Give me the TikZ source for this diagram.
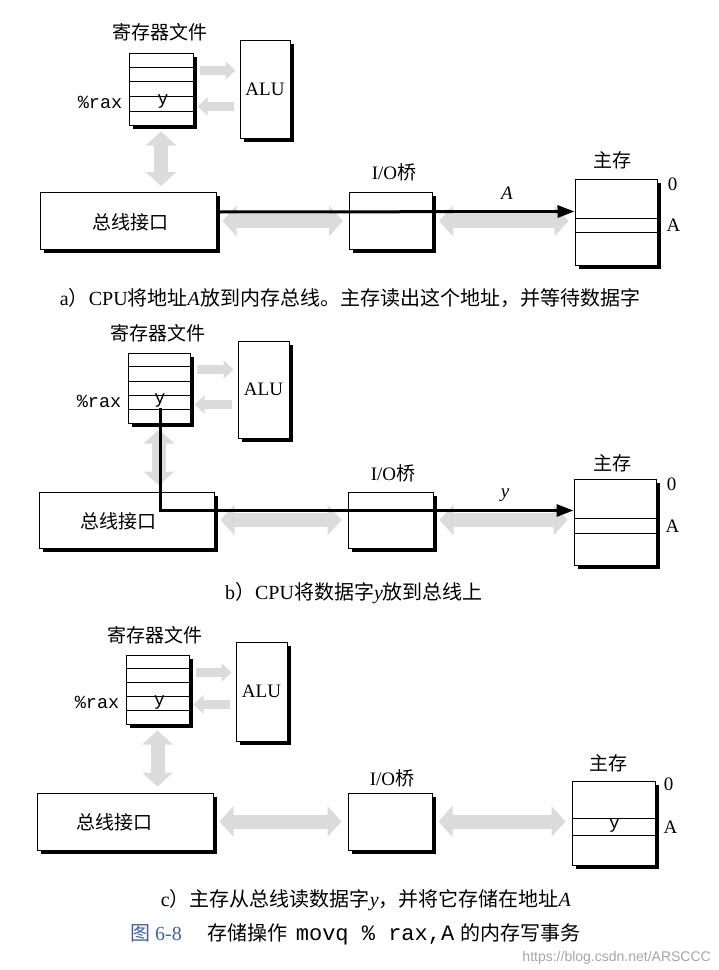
\documentclass[tikz,border=0pt]{standalone}
\usepackage{fontspec}
\setmainfont{Liberation Serif}
\setsansfont{Liberation Sans}
\setmonofont{Liberation Mono}
\newfontfamily\cjkfont{Noto Sans CJK SC}
\newcommand{\zhtext}[1]{{\cjkfont #1}}
\usetikzlibrary{arrows.meta,shadows,calc,positioning}
\definecolor{figblue}{RGB}{58,98,168}

\begin{document}
\begin{tikzpicture}[x=1pt, y=-1pt, >=Stealth,
  every node/.style={font=\fontsize{19}{22}\selectfont, inner sep=0pt},
  box/.style={draw, line width=1pt, fill=white,
    drop shadow={shadow xshift=3.5pt, shadow yshift=-3.5pt, fill=black, opacity=1}},
  busarrow/.style={line width=14pt, black!14,
    {Triangle[width=30pt,length=14pt]}-{Triangle[width=30pt,length=14pt]},
    shorten <=6pt, shorten >=6pt},
  feed/.style={line width=9pt, black!14, -{Triangle[width=18pt,length=10pt]},
    shorten <=6pt, shorten >=4pt},
  data/.style={line width=3pt, -{Triangle[width=12pt,length=17pt]}},
  lbl/.style={font=\fontsize{19}{22}\selectfont\cjkfont},
  regname/.style={font=\fontsize{18.5}{20}\selectfont\ttfamily},
  captext/.style={font=\fontsize{20}{24}\selectfont}]
  \useasboundingbox[fill=white] (0,0) rectangle (719,970);

  % ===== a) address on the bus =====
  % Register file + ALU
  \node[box, minimum width=64pt, minimum height=72pt] (rfA) at (161,89) {};
  \foreach \k in {1,...,4}
    \draw[line width=0.8pt] ($(rfA.north west)!\k/5!(rfA.south west)$) -- ($(rfA.north east)!\k/5!(rfA.south east)$);
  \node[lbl] (rftA) at (160,32) {寄存器文件};
  \node[regname] (yA) at ($(rfA.center)+(2,13)$) {y};
  \node[regname, anchor=east] (raxA) at ($(rfA.west)+(-6,13)$) {\%rax};
  \node[box, minimum width=50pt, minimum height=98pt] (aluA) at (265,89) {ALU};
  \coordinate (inA) at ($(rfA.north east)+(0,18)$);
  \coordinate (outA) at ($(rfA.north east)+(0,54)$);
  \draw[feed] (inA) -- (aluA.west |- inA);
  \draw[feed] (aluA.west |- outA) -- (outA);

  % Bus interface, I/O bridge, main memory
  \node[box, minimum width=176pt, minimum height=57pt] (busA) at (128,221) {};
  \node[lbl] at ($(busA.center)+(2,1)$) {总线接口};
  \node[box, minimum width=83pt, minimum height=57pt] (ioA) at (391,221) {};
  \node at (394,172) {I/O\zhtext{桥}};
  \node[box, minimum width=82pt, minimum height=86pt] (memA) at (616,222) {};
  \draw[line width=0.8pt] ($(memA.north west)+(0,40)$) -- ($(memA.north east)+(0,40)$);
  \draw[line width=0.8pt] ($(memA.north west)+(0,54)$) -- ($(memA.north east)+(0,54)$);
  \node[lbl] at (612,160) {主存};
  \node at ($(memA.north east)+(15,6)$) {0};
  \node at ($(memA.north east)+(16,47)$) {A};

  % Buses
  \draw[busarrow] (rfA.south) -- (rfA.south |- busA.north);
  \draw[busarrow] (busA.east) -- (ioA.west);
  \draw[busarrow] (ioA.east) -- (ioA.east -| memA.west);
  \draw[data] ($(busA.north east)+(0,20)$) -- ($(memA.north west)+(0,33)$);
  \node at (507,193) {\textit{A}};

  \node[captext] (capA) at (350,298) {a\zhtext{）}CPU\zhtext{将地址}\textit{A}\zhtext{放到内存总线。主存读出这个地址，并等待数据字}};

  % ===== b) data word on the bus =====
  \node[box, minimum width=62pt, minimum height=70pt] (rfB) at (159,388) {};
  \foreach \k in {1,...,4}
    \draw[line width=0.8pt] ($(rfB.north west)!\k/5!(rfB.south west)$) -- ($(rfB.north east)!\k/5!(rfB.south east)$);
  \node[lbl] (rftB) at (158,333) {寄存器文件};
  \node[regname] (yB) at ($(rfB.center)+(1,13)$) {y};
  \node[regname, anchor=east] (raxB) at ($(rfB.west)+(-6,13)$) {\%rax};
  \node[box, minimum width=51pt, minimum height=97pt] (aluB) at (263.5,389.5) {ALU};
  \coordinate (inB) at ($(rfB.north east)+(0,17)$);
  \coordinate (outB) at ($(rfB.north east)+(0,52)$);
  \draw[feed] (inB) -- (aluB.west |- inB);
  \draw[feed] (aluB.west |- outB) -- (outB);

  \node[box, minimum width=175pt, minimum height=56pt] (busB) at (126.5,520) {};
  \node[lbl] at ($(busB.center)+(-8,1)$) {总线接口};
  \node[box, minimum width=85pt, minimum height=56pt] (ioB) at (390.5,520) {};
  \node at (393,473) {I/O\zhtext{桥}};
  \node[box, minimum width=82pt, minimum height=86pt] (memB) at (615,522) {};
  \draw[line width=0.8pt] ($(memB.north west)+(0,40)$) -- ($(memB.north east)+(0,40)$);
  \draw[line width=0.8pt] ($(memB.north west)+(0,55)$) -- ($(memB.north east)+(0,55)$);
  \node[lbl] at (612,463) {主存};
  \node at ($(memB.north east)+(15,6)$) {0};
  \node at ($(memB.north east)+(16,48)$) {A};

  \draw[busarrow] (rfB.south) -- (rfB.south |- busB.north);
  \draw[busarrow] (busB.east) -- (ioB.west);
  \draw[busarrow] (ioB.east) -- (ioB.east -| memB.west);
  \draw[data] (yB.south) |- ($(memB.north west)+(0,32)$);
  \node at (505,495) {\textit{y}};

  \node[captext] (capB) at (354,593) {b\zhtext{）}CPU\zhtext{将数据字}\textit{y}\zhtext{放到总线上}};

  % ===== c) memory stores the word =====
  \node[box, minimum width=63pt, minimum height=69pt] (rfC) at (157.5,689.5) {};
  \foreach \k in {1,...,4}
    \draw[line width=0.8pt] ($(rfC.north west)!\k/5!(rfC.south west)$) -- ($(rfC.north east)!\k/5!(rfC.south east)$);
  \node[lbl] (rftC) at (155,635) {寄存器文件};
  \node[regname] (yC) at ($(rfC.center)+(2,13)$) {y};
  \node[regname, anchor=east] (raxC) at ($(rfC.west)+(-6,13)$) {\%rax};
  \node[box, minimum width=51pt, minimum height=99pt] (aluC) at (261.5,691.5) {ALU};
  \coordinate (inC) at ($(rfC.north east)+(0,18)$);
  \coordinate (outC) at ($(rfC.north east)+(0,50)$);
  \draw[feed] (inC) -- (aluC.west |- inC);
  \draw[feed] (aluC.west |- outC) -- (outC);

  \node[box, minimum width=176pt, minimum height=57pt] (busC) at (125,821.5) {};
  \node[lbl] at ($(busC.center)+(-11,1)$) {总线接口};
  \node[box, minimum width=84pt, minimum height=57pt] (ioC) at (390,821.5) {};
  \node at (392,778) {I/O\zhtext{桥}};
  \node[box, minimum width=83pt, minimum height=84pt] (memC) at (613.5,823) {};
  \draw[line width=0.8pt] ($(memC.north west)+(0,38)$) -- ($(memC.north east)+(0,38)$);
  \draw[line width=0.8pt] ($(memC.north west)+(0,55)$) -- ($(memC.north east)+(0,55)$);
  \node[regname] (ymemC) at ($(memC.north)+(1,45)$) {y};
  \node[lbl] at (608,763) {主存};
  \node at ($(memC.north east)+(13,4)$) {0};
  \node at ($(memC.north east)+(15,47)$) {A};

  \draw[busarrow] (rfC.south) -- (rfC.south |- busC.north);
  \draw[busarrow] (busC.east) -- (ioC.west);
  \draw[busarrow] (ioC.east) -- (ioC.east -| memC.west);

  \node[captext] (capC) at (366,900) {c\zhtext{）主存从总线读数据字}\textit{y}\zhtext{，并将它存储在地址}\textit{A}};

  % Figure caption
  \node[captext, anchor=west] (figcap) at (130,934) {\textcolor{figblue}{\zhtext{图} 6-8}\hspace{1.3em}\zhtext{存储操作}\hspace{0.4em}{\fontsize{22}{24}\selectfont\ttfamily movq \% rax,A}\hspace{0.3em}\zhtext{的内存写事务}};
  \node[font=\fontsize{14}{15}\selectfont\sffamily, text=black!35, anchor=east] (wm) at (711,958) {https://blog.csdn.net/ARSCCC};
\end{tikzpicture}
\end{document}
